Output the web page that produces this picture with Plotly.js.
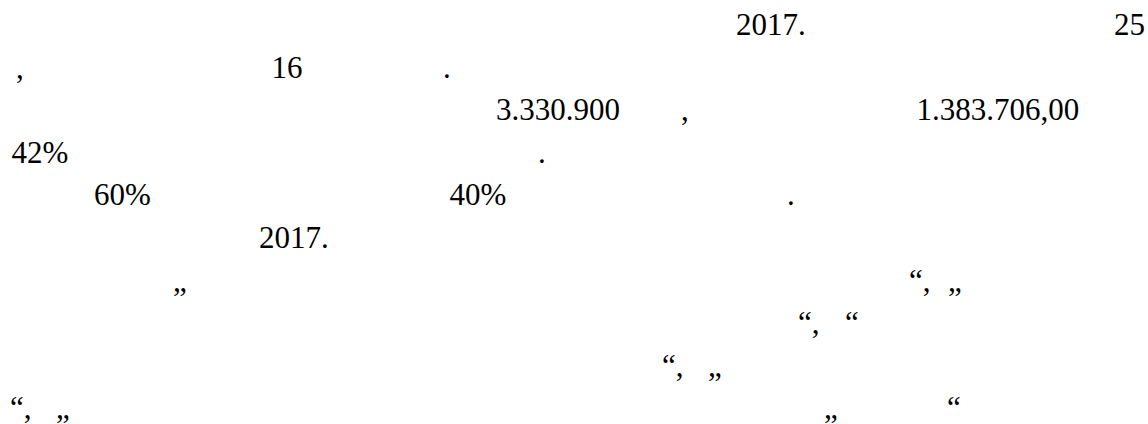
<!DOCTYPE html>
<html>
<head>
<meta charset="utf-8">
<script src="https://cdn.plot.ly/plotly-3.0.1.min.js"></script>
<style>
  html, body { margin: 0; padding: 0; background: #ffffff; }
  #chart { width: 1148px; height: 424px; }
</style>
</head>
<body>
<div id="chart"></div>
<script>
// Visible text fragments of the page (Cyrillic glyphs were missing in the original)
const fragmentText = [
  "2017.", "25",
  ",", "16", ".",
  "3.330.900", ",", "1.383.706,00",
  "42%", ".",
  "60%", "40%", ".",
  "2017.",
  "\u201E", "\u201C,", "\u201E",
  "\u201C,", "\u201C",
  "\u201C,", "\u201E",
  "\u201C,", "\u201E", "\u201E", "\u201C"
];
// text line number (1 = top line)
const fragmentLine = [
  1, 1,
  2, 2, 2,
  3, 3, 3,
  4, 4,
  5, 5, 5,
  6,
  7, 7, 7,
  8, 8,
  9, 9,
  10, 10, 10, 10
];
// horizontal start of each fragment on the page
const fragmentLeft = [
  736, 1114,
  16, 271.5, 443,
  496, 681, 916.5,
  11.5, 538,
  94, 449.5, 787,
  259,
  173, 909, 948,
  798, 845,
  662, 708,
  10, 56, 824, 947
];

const trace = {
  type: 'scatter',
  mode: 'text',
  x: fragmentLeft,
  y: fragmentLine,
  text: fragmentText,
  textposition: 'middle right',
  textfont: { family: 'Liberation Serif', size: 31, color: '#000000' },
  hoverinfo: 'skip',
  showlegend: false,
  cliponaxis: false
};

const layout = {
  width: 1148,
  height: 424,
  autosize: false,
  margin: { l: 0, r: 0, t: 0, b: 0, pad: 0 },
  paper_bgcolor: '#ffffff',
  plot_bgcolor: '#ffffff',
  font: { family: 'Liberation Serif', color: '#000000' },
  showlegend: false,
  hovermode: false,
  xaxis: { range: [0, 1148], visible: false, fixedrange: true },
  yaxis: { range: [10.3134, 0.3603], visible: false, fixedrange: true }
};

Plotly.newPlot('chart', [trace], layout, { displayModeBar: false, staticPlot: true });
</script>
</body>
</html>
